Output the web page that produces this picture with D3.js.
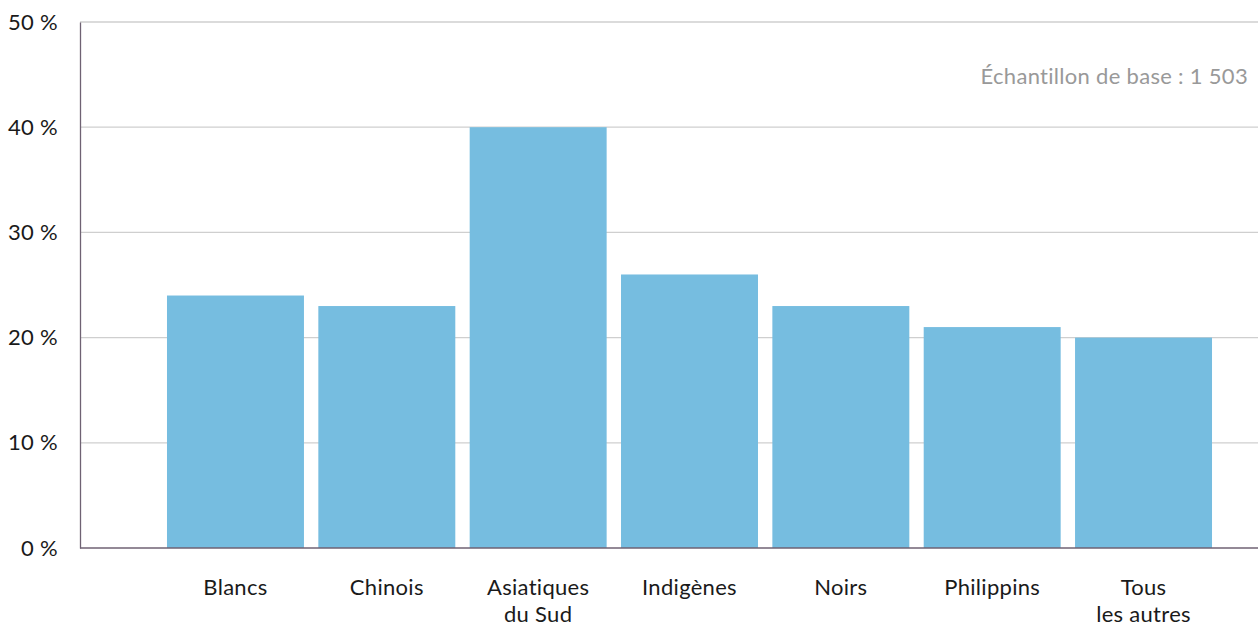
<!DOCTYPE html>
<html lang="fr">
<head>
<meta charset="utf-8">
<script src="https://cdn.jsdelivr.net/npm/d3@7"></script>
<style>
  html, body { margin: 0; padding: 0; background: #fff; }
  svg { display: block; font-family: "Lato", "Open Sans", sans-serif; }
</style>
</head>
<body>
<svg id="chart" width="1258" height="627"></svg>
<script>
// Part des répondants par groupe (en %)
const categories = [["Blancs"], ["Chinois"], ["Asiatiques", "du Sud"], ["Indigènes"], ["Noirs"], ["Philippins"], ["Tous", "les autres"]];
const values = [24, 23, 40, 26, 23, 21, 20];
const yTicks = [0, 10, 20, 30, 40, 50];
const note = "Échantillon de base : 1 503";

const svg = d3.select("#chart");
const plotLeft = 80, plotRight = 1258, plotTop = 22, plotBottom = 548;
const fontSize = 22;

const keys = categories.map(c => c.join(" "));

const x = d3.scaleBand()
  .domain(keys)
  .range([159.8, 1219.2])
  .paddingInner(0.095)
  .paddingOuter(0.0475);

const y = d3.scaleLinear().domain([0, 50]).range([plotBottom, plotTop]);

// Gridlines
svg.append("g")
  .selectAll("line")
  .data(yTicks.filter(t => t > 0))
  .join("line")
  .attr("x1", plotLeft).attr("x2", plotRight)
  .attr("y1", d => y(d)).attr("y2", d => y(d))
  .attr("stroke", "#cfcfcf").attr("stroke-width", 1.3);

// Bars
svg.append("g")
  .selectAll("rect")
  .data(values)
  .join("rect")
  .attr("x", (d, i) => x(keys[i]))
  .attr("width", x.bandwidth())
  .attr("y", d => y(d))
  .attr("height", d => y(0) - y(d))
  .attr("fill", "#76bde0");

// Y axis
const yAxis = d3.axisLeft(y).tickValues(yTicks).tickSize(0).tickPadding(22)
  .tickFormat(d => d + " %");
const gy = svg.append("g").attr("transform", `translate(${plotLeft},0)`).call(yAxis);
gy.select(".domain").attr("stroke", "#6f6273").attr("stroke-width", 1.3);
gy.selectAll("text").attr("font-size", fontSize).attr("fill", "#1a1a1a")
  .attr("letter-spacing", 0.3)
  .attr("font-family", "Lato, 'Open Sans', sans-serif");

// Baseline
svg.append("line")
  .attr("x1", plotLeft).attr("x2", plotRight)
  .attr("y1", y(0)).attr("y2", y(0))
  .attr("stroke", "#6f6273").attr("stroke-width", 1.6);

// Category labels
const lab = svg.append("g")
  .selectAll("text")
  .data(categories)
  .join("text")
  .attr("x", (d, i) => x(keys[i]) + x.bandwidth() / 2)
  .attr("y", 595)
  .attr("text-anchor", "middle")
  .attr("font-size", fontSize)
  .attr("letter-spacing", 0.3)
  .attr("fill", "#1a1a1a");
lab.each(function(lines) {
  d3.select(this).selectAll("tspan")
    .data(lines)
    .join("tspan")
    .attr("x", d3.select(this).attr("x"))
    .attr("dy", (d, j) => j === 0 ? 0 : 27)
    .text(d => d);
});

// Sample size note
svg.append("text")
  .attr("x", 1248).attr("y", 84)
  .attr("text-anchor", "end")
  .attr("font-size", fontSize)
  .attr("letter-spacing", 0.3)
  .attr("fill", "#999999")
  .text(note);
</script>
</body>
</html>
